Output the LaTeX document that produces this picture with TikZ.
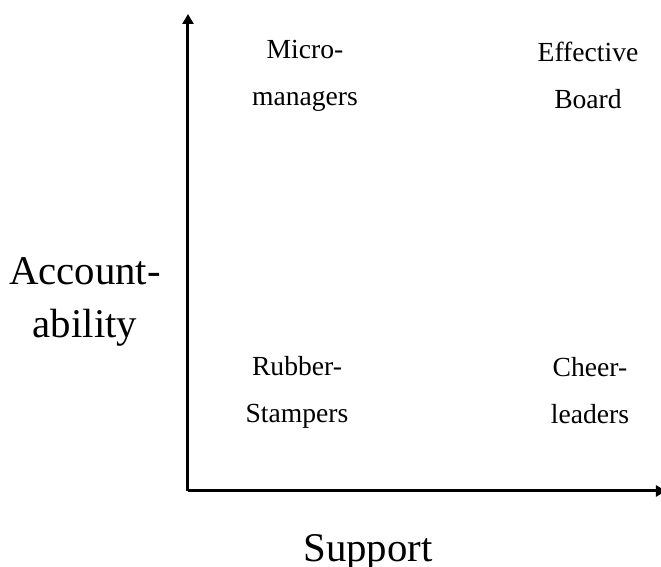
\documentclass[tikz,border=0pt]{standalone}
\usepackage{fontspec}
\setmainfont{Liberation Serif}
\usetikzlibrary{arrows.meta}
\begin{document}
\begin{tikzpicture}[x=0.5pt,y=-0.5pt,>={Triangle[width=5.5pt,length=5pt]},line width=1.5pt,
	quad/.style={align=center,inner sep=0pt,font=\fontsize{13.8}{23.5}\selectfont},
	axlabel/.style={align=center,inner sep=0pt,font=\fontsize{20.4}{26.5}\selectfont}]
	\useasboundingbox (0,0) rectangle (661,567);
	\coordinate (O) at (188,491);
	\coordinate (ytip) at (188,14);
	\coordinate (xtip) at (666,491);
	\draw[->] (O)--(ytip);
	\draw[->] (O)--(xtip);
	\node[quad] (micro) at (305,76) {Micro-\\managers};
	\node[quad] (effective) at (588,75) {Effective\\Board};
	\node[quad] (rubber) at (297,392) {Rubber-\\Stampers};
	\node[quad] (cheer) at (590,391) {Cheer-\\leaders};
	\node[axlabel] (acc) at (85,302) {Account-\\ability};
	\node[axlabel] (supp) at (368,552) {Support};
\end{tikzpicture}
\end{document}
